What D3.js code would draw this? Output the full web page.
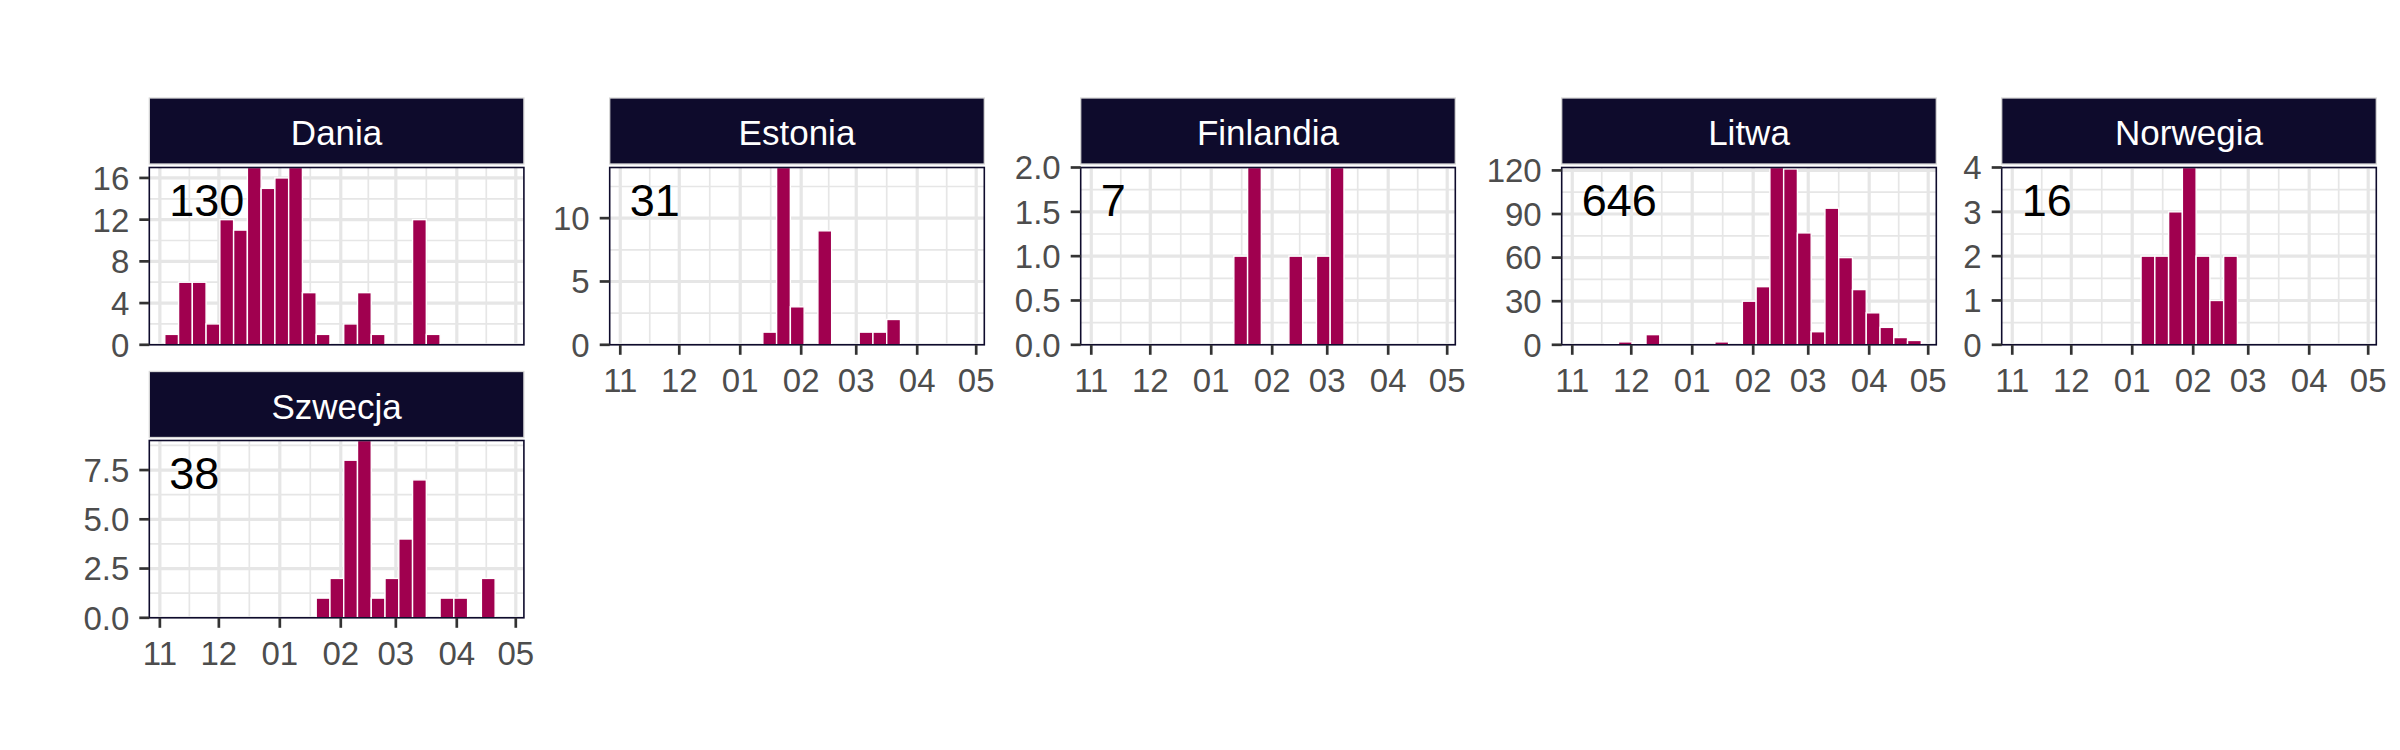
<!DOCTYPE html>
<html><head><meta charset="utf-8">
<script src="https://cdn.jsdelivr.net/npm/d3@7"></script>
<style>body{margin:0;background:#fff} svg{display:block;font-family:"Liberation Sans",Arial,sans-serif}</style>
</head><body><svg id="chart" width="2400" height="750"></svg>
<script>
// ---- data (weekly counts, bins centred on these dates) ----
const weekCenters = ["2020-11-07","2020-11-14","2020-11-21","2020-11-28","2020-12-05","2020-12-12","2020-12-19","2020-12-26",
  "2021-01-02","2021-01-09","2021-01-16","2021-01-23","2021-01-30","2021-02-06","2021-02-13","2021-02-20","2021-02-27",
  "2021-03-06","2021-03-13","2021-03-20","2021-03-27","2021-04-03","2021-04-10","2021-04-17","2021-04-24"];
const countries = ["Dania","Estonia","Finlandia","Litwa","Norwegia","Szwecja"];
const dania     = [1,6,6,2,12,11,17,15,16,17,5,1,0,2,5,1,0,0,12,1,0,0,0,0,0];
const estonia   = [0,0,0,0,0,0,0,0,0,0,1,14,3,0,9,0,0,1,1,2,0,0,0,0,0];
const finlandia = [0,0,0,0,0,0,0,0,0,0,1,2,0,0,1,0,1,2,0,0,0,0,0,0,0];
const litwa     = [0,0,1,2,1,7,0,0,0,0,2,0,30,40,122,121,77,9,94,60,38,22,12,5,3];
const norwegia  = [0,0,0,0,0,0,0,0,0,2,2,3,4,2,1,2,0,0,0,0,0,0,0,0,0];
const szwecja   = [0,0,0,0,0,0,0,0,0,0,0,1,2,8,9,1,2,4,7,0,1,1,0,2,0];
const seriesValues = [dania, estonia, finlandia, litwa, norwegia, szwecja];
const yTicksDania = [0,4,8,12,16];
const yTicksEstonia = [0,5,10];
const yTicksFinlandia = [0,0.5,1,1.5,2];
const yTicksLitwa = [0,30,60,90,120];
const yTicksNorwegia = [0,1,2,3,4];
const yTicksSzwecja = [0,2.5,5,7.5];
const yTicksList = [yTicksDania, yTicksEstonia, yTicksFinlandia, yTicksLitwa, yTicksNorwegia, yTicksSzwecja];
const monthTicks = ["2020-11-01","2020-12-01","2021-01-01","2021-02-01","2021-03-01","2021-04-01","2021-05-01"];
const xDomain = ["2020-10-26T15:00:00Z","2021-05-05T03:00:00Z"];

// ---- layout / style ----
const panelLefts = [149.3, 609.7, 1080.7, 1561.7, 2001.7];
const panelW = 374.6;
const stripTops = [98, 371.5];
const stripH = 66;
const panelTops = [167.5, 440.5];
const panelH = 177.3;
const layout = [[0,0],[0,1],[0,2],[0,3],[0,4],[1,0]]; // row, col
const hasXAxis = [false,true,true,true,true,true];
const BAR = "#A0004F", STRIP = "#0E0B2C", GRID = "#E6E6E6";

const svg = d3.select("#chart");
svg.append("rect").attr("width",2400).attr("height",750).attr("fill","#fff");
const parse = s => new Date(s.length === 10 ? s + "T00:00:00Z" : s);
const DAY = 864e5;

countries.forEach((name, i) => {
  const [r, c] = layout[i];
  const x0 = panelLefts[c], y0 = panelTops[r];
  const vals = seriesValues[i];
  const ticks = yTicksList[i];
  const x = d3.scaleUtc().domain(xDomain.map(parse)).range([0, panelW]);
  const y = d3.scaleLinear().domain([0, d3.max(vals)]).range([panelH, 0]);
  const g = svg.append("g").attr("transform", `translate(${x0},${y0})`);
  const clipId = "clip" + i;
  g.append("clipPath").attr("id", clipId).append("rect").attr("width", panelW).attr("height", panelH);
  const inner = g.append("g").attr("clip-path", `url(#${clipId})`);
  inner.append("rect").attr("width", panelW).attr("height", panelH).attr("fill", "#fff");

  // minor grid
  const step = ticks[1] - ticks[0];
  const yMinor = ticks.map(t => t + step/2).filter(t => t <= y.domain()[1]);
  const mt = monthTicks.map(parse);
  const xMinor = d3.pairs(mt).map(([a,b]) => new Date((+a + +b)/2));
  inner.selectAll(".ymin").data(yMinor).join("line")
    .attr("x1",0).attr("x2",panelW).attr("y1",d=>y(d)).attr("y2",d=>y(d))
    .attr("stroke",GRID).attr("stroke-width",1.7);
  inner.selectAll(".xmin").data(xMinor).join("line")
    .attr("y1",0).attr("y2",panelH).attr("x1",d=>x(d)).attr("x2",d=>x(d))
    .attr("stroke",GRID).attr("stroke-width",1.7);
  // major grid
  inner.selectAll(".ymaj").data(ticks).join("line")
    .attr("x1",0).attr("x2",panelW).attr("y1",d=>y(d)).attr("y2",d=>y(d))
    .attr("stroke",GRID).attr("stroke-width",3.2);
  inner.selectAll(".xmaj").data(mt).join("line")
    .attr("y1",0).attr("y2",panelH).attr("x1",d=>x(d)).attr("x2",d=>x(d))
    .attr("stroke",GRID).attr("stroke-width",3.2);

  // bars
  const data = weekCenters.map((w, k) => ({c: parse(w), v: vals[k]})).filter(d => d.v > 0);
  inner.selectAll(".bar").data(data).join("rect")
    .attr("x", d => x(new Date(+d.c - 3.5*DAY)))
    .attr("width", d => x(new Date(+d.c + 3.5*DAY)) - x(new Date(+d.c - 3.5*DAY)))
    .attr("y", d => y(d.v)).attr("height", d => y(0) - y(d.v))
    .attr("fill", BAR).attr("stroke", "#fff").attr("stroke-width", 1.4);

  // total label
  g.append("text").attr("x", 20).attr("y", 48)
    .attr("font-size", 45).attr("fill", "#000").text(d3.sum(vals));

  // border
  g.append("rect").attr("width", panelW).attr("height", panelH)
    .attr("fill","none").attr("stroke", STRIP).attr("stroke-width", 1.6);

  // y axis
  const fmt = ticks.some(t => !Number.isInteger(t)) ? d3.format(".1f") : d3.format("d");
  const ya = g.append("g");
  ya.selectAll("line").data(ticks).join("line")
    .attr("x1",-10).attr("x2",0).attr("y1",d=>y(d)).attr("y2",d=>y(d))
    .attr("stroke","#333").attr("stroke-width",2.7);
  ya.selectAll("text").data(ticks).join("text")
    .attr("x",-20).attr("y",d=>y(d)).attr("dy","0.36em").attr("text-anchor","end")
    .attr("font-size",33).attr("fill","#4D4D4D").text(fmt);

  // x axis
  if (hasXAxis[i]) {
    const xa = g.append("g").attr("transform", `translate(0,${panelH})`);
    xa.selectAll("line").data(mt).join("line")
      .attr("x1",d=>x(d)).attr("x2",d=>x(d)).attr("y1",0).attr("y2",10)
      .attr("stroke","#333").attr("stroke-width",2.7);
    xa.selectAll("text").data(mt).join("text")
      .attr("x",d=>x(d)).attr("y",47.5).attr("text-anchor","middle")
      .attr("font-size",33).attr("fill","#4D4D4D").text(d3.utcFormat("%m"));
  }

  // strip
  const sg = svg.append("g").attr("transform", `translate(${x0},${stripTops[r]})`);
  sg.append("rect").attr("width", panelW).attr("height", stripH)
    .attr("fill", STRIP).attr("stroke", "#D9D9D9").attr("stroke-width", 1.3);
  sg.append("text").attr("x", panelW/2).attr("y", 47).attr("text-anchor","middle")
    .attr("font-size", 35).attr("fill", "#fff").text(name);
});
</script></body></html>
